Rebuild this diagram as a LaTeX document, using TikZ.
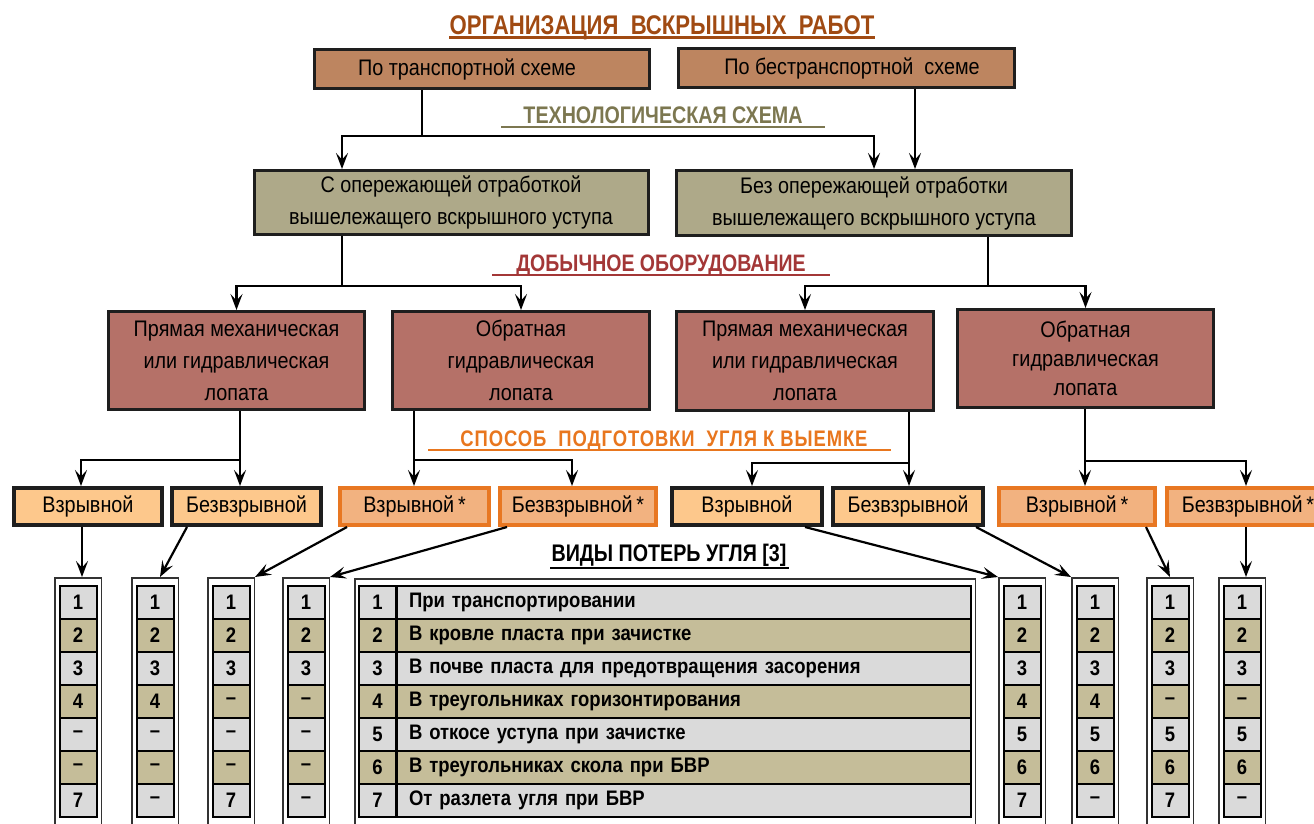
\documentclass[tikz,border=0pt]{standalone}
\usepackage{fontspec}
\setmainfont{Liberation Sans}
\newfontfamily\narrowfont{Liberation Sans}[FakeStretch=0.88]
\newfontfamily\headfont{Liberation Sans}[FakeStretch=0.82]
\newfontfamily\spacedfont{Liberation Sans}[FakeStretch=0.82, LetterSpace=4]
\usetikzlibrary{arrows.meta}

\definecolor{boxline}{HTML}{1E1E1E}
\definecolor{brownbox}{HTML}{BD8560}
\definecolor{olivebox}{HTML}{AEA989}
\definecolor{redbox}{HTML}{B57168}
\definecolor{lightorange}{HTML}{FDC88C}
\definecolor{orangefill}{HTML}{F2B280}
\definecolor{orangeline}{HTML}{E87722}
\definecolor{cellgray}{HTML}{DADADA}
\definecolor{celltan}{HTML}{C5BD99}
\definecolor{titlecol}{HTML}{A04A12}
\definecolor{techcol}{HTML}{7C7750}
\definecolor{equipcol}{HTML}{A33737}
\definecolor{prepcol}{HTML}{E8761E}

\begin{document}
\begin{tikzpicture}[x=1pt, y=-1pt,
    every node/.style={font=\narrowfont\fontsize{22.5}{32}\selectfont, inner sep=0pt},
    box/.style={draw=boxline, line width=3pt, align=center},
    blastbox/.style={box, line width=4pt, fill=lightorange, minimum height=37},
    blaststar/.style={box, line width=4pt, draw=orangeline, fill=orangefill, minimum height=37},
    heading/.style={anchor=base, font=\headfont\bfseries\fontsize{24}{28}\selectfont},
    frame/.style={draw=black!80, line width=1.5pt, fill=white, anchor=north, minimum height=250},
    cell/.style={draw=black, line width=2pt, minimum width=37, minimum height=33,
      font=\narrowfont\bfseries\fontsize{21}{24}\selectfont},
    line/.style={line width=2.2pt},
    arr/.style={line width=2.2pt, -{Stealth[length=16pt, width=12pt, inset=6.5pt]}}]
  \useasboundingbox (0,0) rectangle (1314,823);

  % Headings
  \node[heading, text=titlecol, font=\headfont\bfseries\fontsize{27}{30}\selectfont] (title) at (662,34)
    {ОРГАНИЗАЦИЯ\ \ ВСКРЫШНЫХ\ \ РАБОТ};
  \draw[titlecol, line width=3pt] (449,37.5) -- (875,37.5);
  \node[heading, text=techcol] (techhead) at (663,123) {ТЕХНОЛОГИЧЕСКАЯ СХЕМА};
  \draw[techcol, line width=2.5pt] (501,127) -- (825,127);
  \node[heading, text=equipcol, font=\headfont\bfseries\fontsize{23.8}{28}\selectfont] (equiphead) at (661,271)
    {ДОБЫЧНОЕ ОБОРУДОВАНИЕ};
  \draw[equipcol, line width=2.5pt] (492,275) -- (830,275);
  \node[heading, text=prepcol, font=\spacedfont\bfseries\fontsize{22.5}{26}\selectfont] (prephead) at (664,446)
    {СПОСОБ\ \ ПОДГОТОВКИ\ \ УГЛЯ К ВЫЕМКЕ};
  \draw[prepcol, line width=2.5pt] (428,450) -- (891,450);
  \node[heading] (losshead) at (669,561) {ВИДЫ ПОТЕРЬ УГЛЯ [3]};
  \draw[line width=2.5pt] (550,568) -- (789,568);

  % Organisation boxes
  \node[box, fill=brownbox, minimum width=335, minimum height=39] (top1) at (482,69)
    {По транспортной схеме\hspace*{30pt}};
  \node[box, fill=brownbox, minimum width=336, minimum height=39] (top2) at (846,68)
    {\hspace*{12pt}По бестранспортной\ \ схеме};

  % Technological scheme
  \node[box, fill=olivebox, minimum width=394, minimum height=64] (tech1) at (451,202.5)
    {С опережающей отработкой\\вышележащего вскрышного уступа};
  \node[box, fill=olivebox, minimum width=395, minimum height=65] (tech2) at (874,203)
    {Без опережающей отработки\\вышележащего вскрышного уступа};

  % Mining equipment
  \node[box, fill=redbox, minimum width=256, minimum height=98] (equip1) at (236.5,360.5)
    {Прямая механическая\\или гидравлическая\\лопата};
  \node[box, fill=redbox, minimum width=257, minimum height=98] (equip2) at (521,360.5)
    {Обратная\\гидравлическая\\лопата};
  \node[box, fill=redbox, minimum width=257, minimum height=99] (equip3) at (805,361)
    {Прямая механическая\\или гидравлическая\\лопата};
  \node[box, fill=redbox, minimum width=256, minimum height=98,
    font=\narrowfont\fontsize{22.5}{29}\selectfont] (equip4) at (1085.5,358.5)
    {Обратная\\гидравлическая\\лопата};

  % Coal preparation
  \node[blastbox, minimum width=148] (v1) at (88,506.5) {Взрывной};
  \node[blastbox, minimum width=149] (b1) at (246.5,506.5) {Безвзрывной};
  \node[blaststar, minimum width=149] (v2) at (414.5,506.5) {Взрывной\,*};
  \node[blaststar, minimum width=156] (b2) at (578,506.5) {Безвзрывной\,*};
  \node[blastbox, minimum width=150] (v3) at (747,506.5) {Взрывной};
  \node[blastbox, minimum width=150] (b3) at (908,506.5) {Безвзрывной};
  \node[blaststar, minimum width=156] (v4) at (1077,506.5) {Взрывной\,*};
  \node[blaststar, minimum width=162] (b4) at (1248,506.5) {Безвзрывной\,*};

  % Forks
  \coordinate (fork1) at (422,136);
  \coordinate (fork2) at (342,286);
  \coordinate (fork3) at (988,286);
  \coordinate (fork4) at (240,460);
  \coordinate (fork5) at (414,460);
  \coordinate (fork6) at (909,463);
  \coordinate (fork7) at (1085,461);

  \draw[line] (top1.south -| fork1) -- (fork1);
  \draw[arr] (fork1) -| (tech1.north -| fork2);
  \draw[arr] (fork1) -| (tech2.north);
  \draw[arr] (top2.south -| 915,0) -- (tech2.north -| 915,0);

  \draw[line] (tech1.south -| fork2) -- (fork2);
  \draw[arr] (fork2) -| (equip1.north);
  \draw[arr] (fork2) -| (equip2.north);
  \draw[line] (tech2.south -| fork3) -- (fork3);
  \draw[arr] (fork3) -| (equip3.north);
  \draw[arr] (fork3) -| (equip4.north);

  \draw[line] (equip1.south -| fork4) -- (fork4);
  \draw[arr] (fork4) -| ([xshift=-7pt]v1.north);
  \draw[arr] (fork4) -- (b1.north -| fork4);
  \draw[line] (equip2.south -| fork5) -- (fork5);
  \draw[arr] (fork5) -- (v2.north -| fork5);
  \draw[arr] (fork5) -| ([xshift=-6pt]b2.north);
  \draw[line] (equip3.south -| fork6) -- (fork6);
  \draw[arr] (fork6) -| ([xshift=5pt]v3.north);
  \draw[arr] (fork6) -- (b3.north -| fork6);
  \draw[line] (equip4.south -| fork7) -- (fork7);
  \draw[arr] (fork7) -- (v4.north -| fork7);
  \draw[arr] (fork7) -| (b4.north -| 1246,0);

  % Loss columns
  \foreach \cx/\cn/\vals in {78/c1/{1,2,3,4,–,–,7}, 155/c2/{1,2,3,4,–,–,–},
      231/c3/{1,2,3,–,–,–,7}, 306/c4/{1,2,3,–,–,–,–}, 1022/c5/{1,2,3,4,5,6,7},
      1095/c6/{1,2,3,4,5,6,–}, 1170/c7/{1,2,3,–,5,6,7}, 1242/c8/{1,2,3,–,5,6,–}} {
    \node[frame, minimum width=46.5] (\cn) at (\cx,577) {};
    \foreach \v [count=\r] in \vals {
      \ifodd\r \def\cc{cellgray}\else \def\cc{celltan}\fi
      \node[cell, fill=\cc] at (\cx,569+33*\r) {\v};
    }
  }

  % Table of losses
  \node[frame, minimum width=620.5] (losses) at (665,578) {};
  \foreach \txt [count=\r] in {При транспортировании, В кровле пласта при зачистке,
      В почве пласта для предотвращения засорения, В треугольниках горизонтирования,
      В откосе уступа при зачистке, В треугольниках скола при БВР, От разлета угля при БВР} {
    \ifodd\r \def\cc{cellgray}\else \def\cc{celltan}\fi
    \node[cell, fill=\cc] (n\r) at (377.5,569+33*\r) {\r};
    \node[cell, fill=\cc, anchor=west, text width=550, inner xsep=12pt, align=left] (t\r)
      at (396,569+33*\r) {\txt};
  }

  % Arrows to the columns
  \draw[arr] ([xshift=-6pt]v1.south) -- ([xshift=-6pt]v1.south |- c1.north);
  \draw[arr] ([xshift=17pt]b1.south west) -- ([xshift=5pt]c2.north);
  \draw[arr] ([xshift=9pt]v2.south west) -- (c3.north east);
  \draw[arr] ([xshift=9pt]b2.south west) -- (c4.north east);
  \draw[arr] ([xshift=-19pt]v3.south east) -- (c5.north west);
  \draw[arr] ([xshift=-9pt]b3.south east) -- (c6.north west);
  \draw[arr] ([xshift=-11pt]v4.south east) -- (c7.north);
  \draw[arr] ([xshift=4pt]c8.north |- b4.south) -- ([xshift=4pt]c8.north);
\end{tikzpicture}
\end{document}
